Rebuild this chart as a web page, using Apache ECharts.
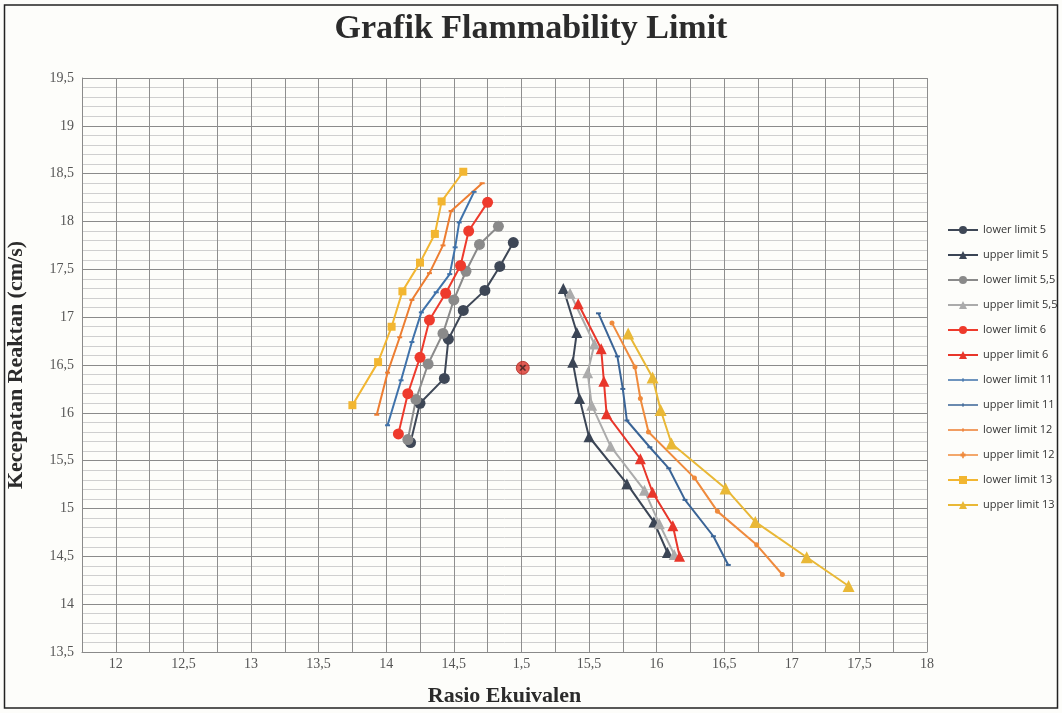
<!DOCTYPE html>
<html>
<head>
<meta charset="utf-8">
<script src="https://cdn.jsdelivr.net/npm/echarts@6/dist/echarts.min.js"></script>
<style>
html,body{margin:0;padding:0;background:#fdfdfa;}
#chart{width:1062px;height:713px;}
</style>
</head>
<body>
<div id="chart"></div>
<script>
// ---- Data (x = Rasio Ekuivalen, y = Kecepatan Reaktan cm/s) ----
const lowerLimit5   = [[14.94,17.78],[14.84,17.53],[14.73,17.28],[14.57,17.07],[14.46,16.77],[14.43,16.36],[14.25,16.10],[14.18,15.69]];
const upperLimit5   = [[15.31,17.30],[15.41,16.84],[15.38,16.53],[15.43,16.15],[15.50,15.75],[15.78,15.26],[15.98,14.86],[16.08,14.54]];
const lowerLimit55  = [[14.83,17.95],[14.69,17.76],[14.59,17.48],[14.50,17.18],[14.42,16.83],[14.31,16.51],[14.22,16.14],[14.16,15.72]];
const upperLimit55  = [[15.36,17.25],[15.54,16.72],[15.49,16.42],[15.52,16.08],[15.66,15.65],[15.91,15.19],[16.02,14.84],[16.13,14.52]];
const lowerLimit6   = [[14.75,18.20],[14.61,17.90],[14.55,17.54],[14.44,17.25],[14.32,16.97],[14.25,16.58],[14.16,16.20],[14.09,15.78]];
const upperLimit6   = [[15.42,17.14],[15.59,16.67],[15.61,16.33],[15.63,15.99],[15.88,15.52],[15.97,15.17],[16.12,14.82],[16.17,14.50]];
const lowerLimit11  = [[14.65,18.31],[14.54,17.99],[14.51,17.73],[14.47,17.45],[14.37,17.26],[14.26,17.05],[14.19,16.74],[14.11,16.34],[14.01,15.87]];
const upperLimit11  = [[15.57,17.04],[15.71,16.59],[15.75,16.25],[15.78,15.92],[15.95,15.64],[16.09,15.42],[16.21,15.09],[16.42,14.71],[16.53,14.41]];
const lowerLimit12  = [[14.71,18.40],[14.48,18.11],[14.42,17.75],[14.32,17.46],[14.19,17.18],[14.10,16.79],[14.01,16.42],[13.93,15.98]];
const upperLimit12  = [[15.67,16.94],[15.84,16.48],[15.88,16.15],[15.94,15.80],[16.28,15.32],[16.45,14.97],[16.74,14.62],[16.93,14.31]];
const lowerLimit13  = [[14.57,18.52],[14.41,18.21],[14.36,17.87],[14.25,17.57],[14.12,17.27],[14.04,16.90],[13.94,16.53],[13.75,16.08]];
const upperLimit13  = [[15.79,16.83],[15.97,16.37],[16.03,16.03],[16.11,15.68],[16.51,15.21],[16.73,14.86],[17.11,14.49],[17.42,14.19]];
const centerPoint   = [[15.01,16.47]];

const seriesNames = ['lower limit 5','upper limit 5','lower limit 5,5','upper limit 5,5','lower limit 6','upper limit 6',
                     'lower limit 11','upper limit 11','lower limit 12','upper limit 12','lower limit 13','upper limit 13'];
const seriesData  = [lowerLimit5,upperLimit5,lowerLimit55,upperLimit55,lowerLimit6,upperLimit6,
                     lowerLimit11,upperLimit11,lowerLimit12,upperLimit12,lowerLimit13,upperLimit13];

const xTickValues = [12,12.5,13,13.5,14,14.5,15,15.5,16,16.5,17,17.5,18];
const xTickLabels = ['12','12,5','13','13,5','14','14,5','1,5','15,5','16','16,5','17','17,5','18'];
const yTickValues = [13.5,14,14.5,15,15.5,16,16.5,17,17.5,18,18.5,19,19.5];
const yTickLabels = ['13,5','14','14,5','15','15,5','16','16,5','17','17,5','18','18,5','19','19,5'];

// ---- Styles ----
const tickPath = 'path://M0,0 L10,0 L10,2 L0,2 Z';
const bbox = 'M0,0 L0.01,0 L0,0.01 Z M30,10 L29.99,10 L30,9.99 Z ';
const lineTickIcon = 'path://' + bbox + 'M0,4.3 L30,4.3 L30,5.7 L0,5.7 Z M14.4,3.2 L15.6,3.2 L15.6,6.8 L14.4,6.8 Z';
const plusIcon = 'path://' + bbox + 'M0,4.2 L30,4.2 L30,5.8 L0,5.8 Z M14.2,1.8 L15.8,1.8 L15.8,8.2 L14.2,8.2 Z M12.5,3.6 L17.5,3.6 L17.5,6.4 L12.5,6.4 Z';
const styles = [
  {color:'#3e4756', symbol:'circle',   size:11},
  {color:'#3b4555', symbol:'triangle', size:11},
  {color:'#8a8a8a', symbol:'circle',   size:11},
  {color:'#ababab', symbol:'triangle', size:11},
  {color:'#ee3a2c', symbol:'circle',   size:11},
  {color:'#e8362a', symbol:'triangle', size:11},
  {color:'#3f72aa', symbol:tickPath, size:[5,2], icon:lineTickIcon},
  {color:'#3a6496', symbol:tickPath, size:[5,2], icon:lineTickIcon},
  {color:'#ed7d31', symbol:tickPath, size:[5,2], icon:lineTickIcon},
  {color:'#ef8a3c', symbol:'circle', size:5, icon:plusIcon},
  {color:'#f2b631', symbol:'rect',     size:8},
  {color:'#e9b836', symbol:'triangle', size:12}
];

const chart = echarts.init(document.getElementById('chart'));
const series = seriesNames.map((n,i)=>({
  name:n, type:'line', data:seriesData[i],
  symbol:styles[i].symbol, symbolSize:styles[i].size, showSymbol:true,
  lineStyle:{color:styles[i].color, width:2},
  itemStyle:{color:styles[i].color},
  z:3
}));
series.push({
  name:'center', type:'scatter', data:centerPoint, symbol:'circle', symbolSize:13,
  itemStyle:{color:'#d9332a', borderColor:'#b22a22', borderWidth:1}, z:4
});
series.push({
  name:'centerX', type:'scatter', data:centerPoint, symbol:'path://M0,0 L2,0 L10,8 L10,10 L8,10 L0,2 Z M8,0 L10,0 L10,2 L2,10 L0,10 L0,8 Z', symbolSize:6,
  itemStyle:{color:'#3a2020'}, z:5
});

const legendData = seriesNames.map((n,i)=> styles[i].icon ? {name:n, icon:styles[i].icon} : {name:n});

function fmt(vals, labels){
  return function(v){
    for (let i=0;i<vals.length;i++){ if (Math.abs(vals[i]-v)<1e-6) return labels[i]; }
    return '';
  };
}

chart.setOption({
  backgroundColor:'#fdfdfa',
  animation:false,
  title:{
    text:'Grafik Flammability Limit', left:'center', top:7,
    textStyle:{fontFamily:'Liberation Serif', fontWeight:'bold', fontSize:34, color:'#2b2b2b'}
  },
  graphic:[{
    type:'rect', shape:{x:4.5,y:5,width:1053,height:703},
    style:{fill:'none', stroke:'#222', lineWidth:1.5}, silent:true
  }],
  legend:{
    orient:'vertical', left:942, top:218,
    data:legendData, itemWidth:30, itemHeight:10, itemGap:11,
    textStyle:{fontFamily:'Open Sans', fontSize:11, color:'#333', lineHeight:14}
  },
  grid:{left:82, right:135, top:78, bottom:61, containLabel:false, outerBoundsMode:'none'},
  xAxis:{
    type:'value', min:11.75, max:18, interval:0.25,
    name:'Rasio Ekuivalen', nameLocation:'middle', nameGap:33,
    nameTextStyle:{fontFamily:'Liberation Serif', fontWeight:'bold', fontSize:22, color:'#2b2b2b'},
    axisLine:{show:true, lineStyle:{color:'#8a8a8a'}},
    axisTick:{show:false},
    axisLabel:{formatter:fmt(xTickValues,xTickLabels), fontFamily:'Liberation Serif', fontSize:14, color:'#555', margin:5, showMinLabel:true, showMaxLabel:true},
    splitLine:{show:true, lineStyle:{color:'#8e8e8e', width:1}}
  },
  yAxis:{
    type:'value', min:13.5, max:19.5, interval:0.5,
    name:'Kecepatan Reaktan (cm/s)', nameLocation:'middle', nameGap:55,
    nameTextStyle:{fontFamily:'Liberation Serif', fontWeight:'bold', fontSize:22, color:'#2b2b2b'},
    axisLine:{show:true, lineStyle:{color:'#8a8a8a'}},
    axisTick:{show:false},
    axisLabel:{formatter:fmt(yTickValues,yTickLabels), fontFamily:'Liberation Serif', fontSize:14, color:'#555', margin:8},
    splitLine:{show:true, lineStyle:{color:'#8a8a8a', width:1.2}},
    minorTick:{show:false, splitNumber:5},
    minorSplitLine:{show:true, lineStyle:{color:'#cfcfcf', width:1}}
  },
  series:series
});
</script>
</body>
</html>
